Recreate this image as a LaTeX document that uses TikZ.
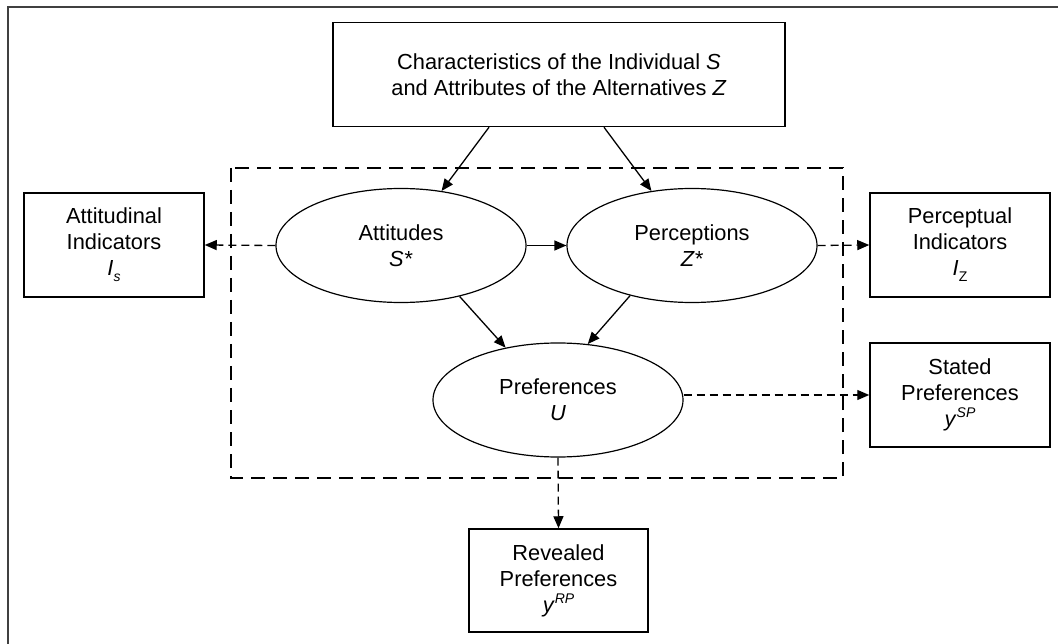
\documentclass[tikz,border=0pt]{standalone}
\usepackage{fontspec}
\setmainfont{Liberation Sans}
\usetikzlibrary{shapes.geometric,arrows.meta}

% small lowered / raised indices
\newcommand\subtxt[1]{\raisebox{-6pt}{\fontsize{14}{14}\selectfont #1}}
\newcommand\suptxt[1]{\raisebox{9pt}{\fontsize{14}{14}\selectfont #1}}

\begin{document}
\begin{tikzpicture}[x=1pt,y=-1pt,
  every node/.style={font=\fontsize{21.8}{26}\selectfont, align=center, inner sep=0pt},
  box/.style={draw, line width=1.5pt, rectangle, minimum width=180pt, minimum height=104pt},
  latent/.style={draw, line width=1.2pt, ellipse, minimum width=250pt, minimum height=114pt},
  link/.style={line width=1.3pt, -{Triangle[length=12pt,width=10pt]}},
  dlink/.style={link, dash pattern=on 8pt off 5pt},
  groupline/.style={line width=1.4pt, dash pattern=on 14pt off 8pt},
  ]
\useasboundingbox (0,0) rectangle (1058,644);

% frame
\draw[line width=2pt, black!75] (1058,7) -- (8,7) -- (8,644);

% latent part of the model
\draw[groupline] (231,168) rectangle (843,478);

% nodes
\node[box, minimum width=452pt] (top) at (559,74.5)
  {Characteristics of the Individual \textit{S}\\ and Attributes of the Alternatives \textit{Z}};
\node[latent] (att)  at (401,245.5) {Attitudes\\ \textit{S*}};
\node[latent] (perc) at (692,245.5) {Perceptions\\ \textit{Z*}};
\node[latent] (pref) at (558,400)   {Preferences\\ \textit{U}};
\node[box] (ai) at (114,245) {Attitudinal\\ Indicators\\ \textit{I}\subtxt{\textit{s}}};
\node[box] (pi) at (960,245) {Perceptual\\ Indicators\\ \textit{I}\subtxt{Z}};
\node[box] (sp) at (960,395) {Stated\\ Preferences\\ \textit{y}\suptxt{\textit{SP}}};
\node[box, minimum width=179pt, minimum height=103pt] (rp) at (558.5,580.5)
  {Revealed\\ Preferences\\ \textit{y}\suptxt{\textit{RP}}};

% structural relations
\draw[link] ([xshift=-70pt]top.south) -- (att);
\draw[link] ([xshift=45pt]top.south) -- (perc);
\draw[link] (att.east) -- (perc.west);
\draw[link] (att.-41) -- (pref.135);
\draw[link] (perc.219) -- (pref.62);

% measurement relations
\draw[dlink] (att.west) -- (ai.east);
\draw[dlink] (perc.east) -- (pi.west);
\draw[dlink] (pref.east |- sp.west) -- (sp.west);
\draw[dlink] (pref.south) -- (rp.north);
\end{tikzpicture}
\end{document}
